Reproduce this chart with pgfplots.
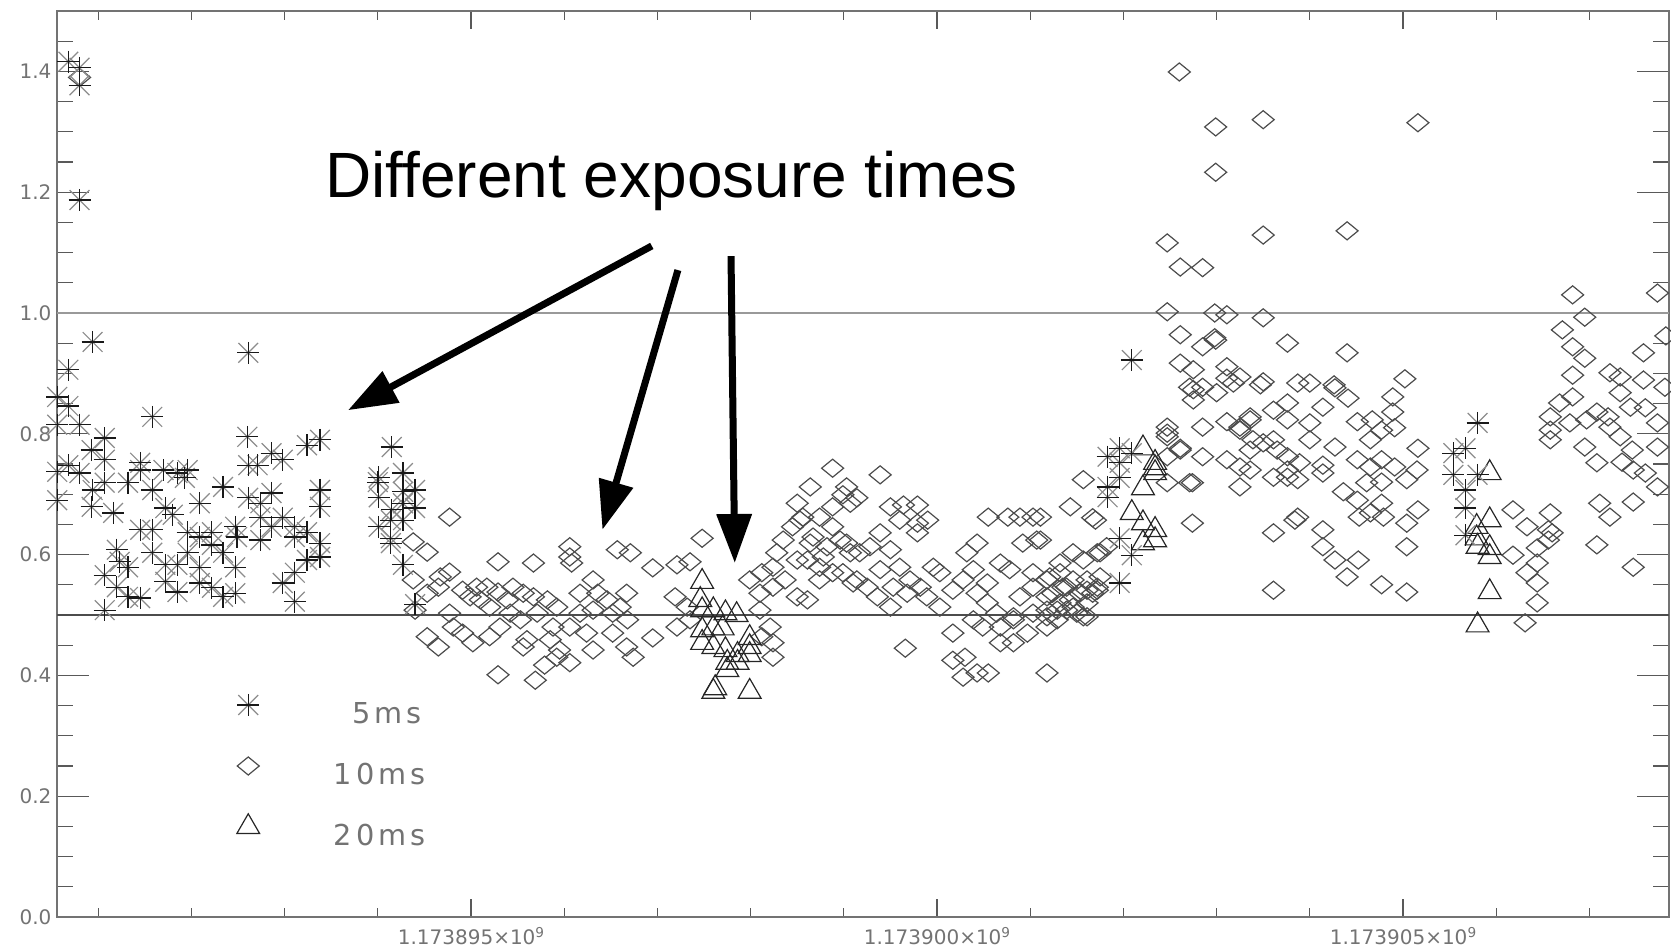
\documentclass[border=0pt]{standalone}
\usepackage{pgfplots}
\usepackage{pgfplotstable}
\pgfplotsset{compat=1.18}
\usetikzlibrary{arrows.meta}
\usepackage{fontspec}
\setmainfont{Liberation Sans}
\newfontfamily\tickfont{DejaVu Sans}
\newfontfamily\legfont[LetterSpace=14]{DejaVu Sans}
\newcommand{\smallsup}[1]{\raisebox{1.7pt}{\fontsize{3.4}{4}\selectfont #1}}

% IDL style diamond: a bit wider than tall
\pgfdeclareplotmark{idldiamond}{%
  \pgfpathmoveto{\pgfqpoint{0pt}{0.82\pgfplotmarksize}}%
  \pgfpathlineto{\pgfqpoint{\pgfplotmarksize}{0pt}}%
  \pgfpathlineto{\pgfqpoint{0pt}{-0.82\pgfplotmarksize}}%
  \pgfpathlineto{\pgfqpoint{-\pgfplotmarksize}{0pt}}%
  \pgfpathclose\pgfusepathqstroke}

% x: time in 1000 s after 1.173895e9 s
\pgfplotstableread{
x y
-4.32 1.416
-4.20 1.406
-4.20 1.377
-4.20 1.187
-4.06 0.952
-4.32 0.906
-4.44 0.861
-2.39 0.934
-4.32 0.846
-4.20 0.815
-4.44 0.815
-3.42 0.828
-3.93 0.793
-4.07 0.773
-4.32 0.748
-4.44 0.737
-4.20 0.735
-3.93 0.757
-4.44 0.690
-4.06 0.707
-4.07 0.679
-3.93 0.719
-3.84 0.669
-3.68 0.719
-3.55 0.752
-3.55 0.740
-3.42 0.707
-3.30 0.740
-3.15 0.735
-3.04 0.740
-3.07 0.727
-2.91 0.685
-2.66 0.712
-3.28 0.677
-3.20 0.666
-3.55 0.641
-3.42 0.641
-3.42 0.603
-3.80 0.608
-3.77 0.588
-3.68 0.579
-3.93 0.566
-3.80 0.546
-3.68 0.530
-3.55 0.528
-3.28 0.583
-3.15 0.583
-3.28 0.555
-3.15 0.538
-3.04 0.603
-3.04 0.637
-2.91 0.629
-2.91 0.579
-2.78 0.637
-2.78 0.616
-2.78 0.545
-2.91 0.553
-2.66 0.530
-2.66 0.603
-2.53 0.646
-2.51 0.629
-2.53 0.579
-2.53 0.536
-2.40 0.795
-2.39 0.748
-2.29 0.748
-2.14 0.768
-2.02 0.757
-2.39 0.694
-2.26 0.685
-2.26 0.662
-2.14 0.646
-2.02 0.661
-2.14 0.702
-1.89 0.646
-1.89 0.629
-1.76 0.637
-2.26 0.624
-2.02 0.553
-1.89 0.570
-1.89 0.522
-1.76 0.591
-1.76 0.781
-1.62 0.790
-1.62 0.707
-1.62 0.679
-1.62 0.619
-1.62 0.596
-3.93 0.508
-0.85 0.778
-0.99 0.728
-0.73 0.735
-0.99 0.695
-0.73 0.704
-0.60 0.707
-0.85 0.674
-0.73 0.685
-0.60 0.677
-0.99 0.646
-0.86 0.657
-0.73 0.657
-0.86 0.627
-0.86 0.619
-0.73 0.583
-0.60 0.518
-1.00 0.720
7.09 0.922
6.83 0.762
6.96 0.776
7.09 0.768
6.96 0.752
6.96 0.727
6.83 0.712
6.83 0.695
6.96 0.627
7.09 0.599
6.96 0.553
10.80 0.818
10.54 0.768
10.67 0.776
10.54 0.732
10.80 0.732
10.67 0.707
10.67 0.677
10.67 0.632
}\fivems

\pgfplotstableread{
x y
2.48 0.555
2.46 0.525
2.48 0.508
2.60 0.508
2.73 0.503
2.85 0.500
2.48 0.475
2.60 0.478
2.70 0.478
2.48 0.454
2.60 0.447
2.73 0.442
2.99 0.462
2.99 0.447
2.99 0.434
2.86 0.434
2.75 0.421
2.75 0.409
2.62 0.379
2.60 0.373
2.99 0.373
2.86 0.421
7.21 0.776
7.34 0.752
7.34 0.743
7.34 0.735
7.21 0.710
7.09 0.669
7.21 0.652
7.34 0.641
7.34 0.624
7.21 0.619
10.93 0.735
10.79 0.646
10.93 0.657
10.79 0.627
10.80 0.613
10.93 0.611
10.93 0.596
10.93 0.538
10.80 0.483
}\twentyms

\pgfplotstableread{
x y
-4.20 1.39
-0.23 0.662
-0.62 0.621
-0.47 0.604
-0.62 0.558
-0.33 0.563
-0.23 0.571
-0.35 0.546
-0.47 0.536
-0.60 0.508
-0.09 0.541
0.06 0.546
0.17 0.546
0.29 0.588
0.29 0.538
0.45 0.546
0.56 0.536
0.67 0.586
0.67 0.530
-0.01 0.530
0.10 0.525
0.20 0.513
0.39 0.525
-0.47 0.464
-0.35 0.447
-0.23 0.503
-0.19 0.480
-0.09 0.470
0.02 0.454
0.20 0.464
0.31 0.480
0.42 0.503
0.53 0.492
0.60 0.459
0.56 0.447
0.71 0.503
0.82 0.525
0.92 0.513
0.88 0.480
0.85 0.459
0.95 0.442
0.92 0.430
0.79 0.417
1.06 0.421
0.29 0.401
0.69 0.392
1.06 0.613
1.06 0.596
1.08 0.586
1.17 0.536
1.31 0.558
1.36 0.536
1.17 0.503
1.31 0.508
1.46 0.525
1.52 0.503
1.67 0.536
1.60 0.513
1.68 0.492
1.52 0.470
1.67 0.447
1.74 0.430
1.31 0.442
1.24 0.470
1.06 0.480
1.57 0.608
1.71 0.603
1.95 0.578
1.95 0.462
2.21 0.583
2.35 0.588
2.48 0.627
2.19 0.530
2.32 0.513
2.21 0.480
2.35 0.492
2.99 0.558
3.12 0.570
3.24 0.579
3.10 0.536
3.24 0.546
3.37 0.558
3.50 0.530
3.10 0.508
3.21 0.480
3.24 0.454
3.24 0.430
3.12 0.464
3.28 0.603
3.35 0.624
3.45 0.646
3.56 0.662
3.50 0.685
3.64 0.712
3.88 0.743
4.03 0.712
3.74 0.662
3.88 0.646
3.67 0.629
3.82 0.613
3.96 0.624
4.07 0.603
3.99 0.570
4.10 0.553
3.88 0.570
3.74 0.579
3.50 0.591
4.07 0.685
3.78 0.596
4.39 0.732
4.14 0.694
3.88 0.679
3.99 0.699
3.53 0.657
3.64 0.619
4.39 0.636
4.03 0.619
4.17 0.603
4.28 0.613
4.50 0.679
4.64 0.682
4.79 0.682
4.90 0.657
4.79 0.652
4.79 0.636
4.60 0.657
3.61 0.591
4.14 0.558
4.25 0.546
4.39 0.575
4.50 0.608
4.53 0.546
4.60 0.579
4.71 0.558
4.82 0.546
4.96 0.579
5.03 0.570
4.36 0.530
4.50 0.513
4.68 0.536
4.89 0.530
5.03 0.513
3.61 0.525
3.74 0.558
5.17 0.541
5.28 0.558
5.39 0.575
5.32 0.603
5.43 0.619
5.55 0.662
5.76 0.662
5.89 0.662
6.03 0.662
5.92 0.619
6.07 0.624
5.43 0.536
5.54 0.553
5.68 0.586
5.78 0.575
5.54 0.520
5.64 0.503
5.39 0.492
5.49 0.480
5.68 0.480
5.82 0.492
5.89 0.530
6.03 0.546
6.03 0.570
6.18 0.558
6.24 0.536
6.32 0.570
6.39 0.546
6.43 0.525
6.29 0.508
6.18 0.508
6.53 0.536
6.61 0.558
6.67 0.536
6.57 0.591
6.32 0.586
6.46 0.603
6.75 0.603
6.82 0.613
6.43 0.679
6.67 0.661
6.57 0.724
5.68 0.454
5.82 0.454
5.97 0.470
6.03 0.503
6.18 0.480
6.29 0.492
6.39 0.508
6.50 0.503
6.57 0.497
6.61 0.520
6.72 0.541
6.75 0.563
5.82 0.497
5.17 0.470
4.66 0.445
5.17 0.425
5.30 0.430
5.28 0.397
5.43 0.404
5.55 0.404
6.18 0.404
7.47 0.811
7.47 0.801
7.85 0.811
7.61 0.773
7.71 0.719
7.74 0.652
8.11 0.820
8.36 0.823
8.25 0.811
8.36 0.773
8.11 0.757
8.25 0.712
8.61 0.790
8.61 0.728
8.61 0.636
8.61 0.541
7.85 0.762
7.75 0.873
8.00 0.868
8.18 0.884
8.47 0.881
7.47 1.116
8.50 1.129
7.61 1.076
7.85 1.075
7.47 1.002
7.98 1.000
8.11 0.997
8.50 0.992
7.61 0.964
7.85 0.944
7.98 0.959
7.61 0.917
7.75 0.906
8.11 0.911
8.25 0.894
8.50 0.886
8.11 0.892
7.71 0.877
7.85 0.877
7.75 0.856
8.36 0.828
8.25 0.806
8.61 0.839
8.76 0.851
8.76 0.823
7.47 0.795
7.61 0.776
7.47 0.762
8.39 0.790
8.50 0.785
8.25 0.745
8.36 0.740
8.65 0.773
8.76 0.762
8.76 0.728
7.47 0.719
7.74 0.719
6.70 0.657
6.11 0.662
6.11 0.624
6.72 0.603
6.21 0.563
6.35 0.546
6.46 0.558
6.61 0.541
6.72 0.546
6.18 0.530
6.32 0.520
6.46 0.513
6.61 0.497
6.18 0.497
8.84 0.657
7.60 1.399
7.99 1.308
8.50 1.320
10.16 1.315
7.99 1.233
9.40 1.136
7.99 0.955
8.76 0.950
9.40 0.934
8.87 0.884
9.00 0.884
9.26 0.881
10.02 0.891
11.82 1.030
12.73 1.033
11.95 0.993
11.71 0.972
11.82 0.944
11.95 0.925
11.82 0.897
12.82 0.962
9.89 0.861
9.89 0.836
9.27 0.876
9.14 0.844
9.41 0.859
9.00 0.818
9.51 0.820
9.67 0.823
9.91 0.810
9.00 0.790
9.27 0.778
9.65 0.790
9.77 0.806
10.16 0.776
8.89 0.752
9.14 0.748
9.51 0.757
9.65 0.745
9.77 0.757
9.91 0.745
10.15 0.740
10.04 0.724
8.76 0.740
8.87 0.724
9.36 0.704
9.61 0.719
9.51 0.690
9.77 0.685
8.87 0.662
9.14 0.641
9.53 0.662
9.65 0.669
9.79 0.662
10.04 0.652
10.16 0.674
11.18 0.674
11.33 0.646
11.58 0.669
11.60 0.636
11.58 0.828
11.68 0.851
11.82 0.861
11.58 0.806
11.58 0.790
11.79 0.818
11.97 0.823
12.08 0.836
12.20 0.828
12.22 0.811
11.95 0.778
12.08 0.752
12.22 0.901
12.33 0.894
12.33 0.868
12.58 0.889
12.58 0.934
12.81 0.877
12.44 0.844
12.60 0.843
12.33 0.795
12.46 0.773
12.35 0.753
12.47 0.740
12.60 0.735
12.73 0.818
12.73 0.778
12.73 0.712
12.11 0.685
12.22 0.662
12.47 0.687
9.14 0.613
9.27 0.591
9.40 0.563
9.52 0.591
9.77 0.550
10.04 0.538
10.04 0.613
11.18 0.599
11.33 0.570
11.44 0.553
11.44 0.520
11.31 0.487
11.56 0.641
11.56 0.624
11.44 0.611
11.44 0.586
12.08 0.616
12.47 0.579
9.14 0.735
9.77 0.720
}\tenms

\begin{document}
\begin{tikzpicture}
\begin{axis}[
  at={(0,0)}, anchor=south west,
  scale only axis,
  width=403pt, height=226.5pt,
  xmin=-4.442, xmax=12.854,
  ymin=0, ymax=1.5,
  clip=false,
  axis line style={black!55, line width=0.3pt},
  tick align=inside,
  xtick={0,5,10},
  xticklabels={1.173895×10\smallsup{9},1.173900×10\smallsup{9},1.173905×10\smallsup{9}},
  minor xtick={-4,-3,-2,-1,1,2,3,4,6,7,8,9,11,12},
  ytick={0,0.2,0.4,0.6,0.8,1.0,1.2,1.4},
  yticklabels={0.0,0.2,0.4,0.6,0.8,1.0,1.2,1.4},
  minor ytick={0.05,0.1,0.15,0.25,0.3,0.35,0.45,0.5,0.55,0.65,0.7,0.75,0.85,0.9,0.95,1.05,1.1,1.15,1.25,1.3,1.35,1.45},
  xtick style={/pgfplots/major tick length=4.5pt, /pgfplots/minor tick length=2.2pt, black!65, line width=0.3pt},
  ytick style={/pgfplots/major tick length=8pt, /pgfplots/minor tick length=4pt, black!65, line width=0.3pt},
  xticklabel style={font=\tickfont\fontsize{5}{6}\selectfont, text=black!55, inner sep=0pt, yshift=-2.4pt},
  yticklabel style={font=\tickfont\fontsize{5}{6}\selectfont, text=black!55, inner sep=0pt, xshift=-1.2pt},
]
% reference levels
\addplot[black!40, line width=0.3pt] coordinates {(-4.442,1) (12.854,1)};
\addplot[black!70, line width=0.3pt] coordinates {(-4.442,0.5) (12.854,0.5)};

% 10 ms
\addplot[only marks, mark=idldiamond, mark size=2.75pt,
  mark options={black!70, line width=0.3pt}] table {\tenms};
% 20 ms
\addplot[only marks, mark=triangle, mark size=3.3pt,
  mark options={black!85, line width=0.3pt}] table {\twentyms};
% 5 ms: IDL asterisk = plus + cross
\addplot[only marks, mark=x, mark size=3.5pt,
  mark options={black!45, line width=0.3pt}] table {\fivems};
\addplot[only marks, mark=+, mark size=2.75pt,
  mark options={black!90, line width=0.3pt}] table {\fivems};

% legend symbols
\addplot[only marks, mark=x, mark size=3.5pt, mark options={black!45, line width=0.3pt}] coordinates {(-2.39,0.351)};
\addplot[only marks, mark=+, mark size=2.75pt, mark options={black!90, line width=0.3pt}] coordinates {(-2.39,0.351)};
\addplot[only marks, mark=idldiamond, mark size=2.75pt, mark options={black!70, line width=0.3pt}] coordinates {(-2.39,0.25)};
\addplot[only marks, mark=triangle, mark size=3.3pt, mark options={black!85, line width=0.3pt}] coordinates {(-2.39,0.149)};
\node[anchor=west, inner sep=0pt, text=black!55, font=\legfont\fontsize{7.2}{8}\selectfont] at (axis cs:-1.28,0.338) {5ms};
\node[anchor=west, inner sep=0pt, text=black!55, font=\legfont\fontsize{7.2}{8}\selectfont] at (axis cs:-1.48,0.237) {10ms};
\node[anchor=west, inner sep=0pt, text=black!55, font=\legfont\fontsize{7.2}{8}\selectfont] at (axis cs:-1.48,0.136) {20ms};

% annotation
\node[anchor=base west, inner sep=0pt, font=\fontsize{16}{19}\selectfont] at (axis cs:-1.57,1.192) {Different exposure times};
\draw[-{Triangle[length=12.25pt,width=8.5pt]}, line width=1.75pt] (axis cs:1.94,1.111) -- (axis cs:-1.32,0.839);
\draw[-{Triangle[length=12.25pt,width=8.5pt]}, line width=1.75pt] (axis cs:2.22,1.071) -- (axis cs:1.41,0.641);
\draw[-{Triangle[length=12.25pt,width=8.5pt]}, line width=1.75pt] (axis cs:2.79,1.094) -- (axis cs:2.83,0.586);
\end{axis}
\pgfresetboundingbox
\path (-14.25pt,-8pt) rectangle (403.5pt,229.25pt);
\end{tikzpicture}
\end{document}
